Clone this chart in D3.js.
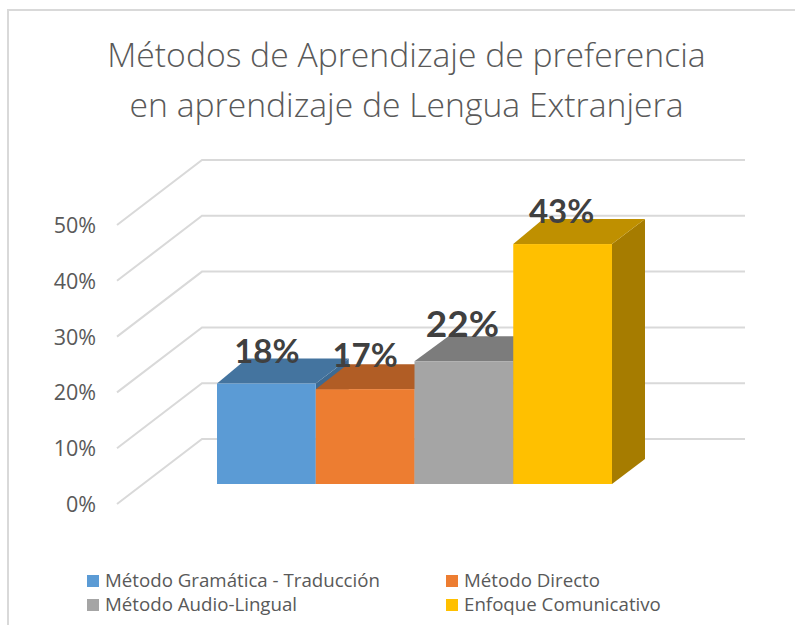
<!DOCTYPE html>
<html><head><meta charset="utf-8">
<script src="https://cdn.jsdelivr.net/npm/d3@7/dist/d3.min.js"></script>
<style>html,body{margin:0;padding:0;background:#fff}svg{display:block}</style>
</head><body>
<svg id="c" width="795" height="625"></svg>
<script>
const categories = ["Método Gramática - Traducción","Método Directo","Método Audio-Lingual","Enfoque Comunicativo"];
const values = [18,17,22,43];
const labels = ["18%","17%","22%","43%"];
const ticks = [0,10,20,30,40,50];
const frontColors = ["#5B9BD5","#ED7D31","#A5A5A5","#FFC000"];
const topColors = ["#44749F","#B15D25","#7C7C7C","#BF9000"];
const sideColors = ["#3D6A92","#A05422","#707070","#A67C00"];
const titleLines = ["Métodos de Aprendizaje de preferencia","en aprendizaje de Lengua Extranjera"];
// drawing styles, separate from the data
const labelSizes = [33,33,37,33];
const labelGaps = [21,22,24.5,21];
const labelShift = [0.5,0,-1.5,-1];
const depthLeft = [30,32,34,30];

const svg = d3.select("#c");
const font = "'Open Sans', sans-serif";
const line = d3.line();

svg.append("path").attr("fill","none").attr("stroke","#d9d9d9").attr("stroke-width",2)
  .attr("d",line([[8,625],[8,10],[795,10]]));

const yFront = d3.scaleLinear().domain([0,50]).range([504,225]);
const yBack = d3.scaleLinear().domain([0,50]).range([439,160]);
const yBar = d3.scaleLinear().domain([0,50]).range([484,205]);
const xBand = d3.scaleBand().domain(categories).range([217,612]);

svg.append("g").selectAll("text").data(titleLines).join("text")
  .attr("x",406.5).attr("y",(d,i)=>[67,117][i]).attr("text-anchor","middle")
  .attr("font-family",font).attr("font-weight",300).attr("font-size",33.7).attr("fill","#595959").text(d=>d);

const grid = svg.append("g").attr("fill","none").attr("stroke","#d9d9d9").attr("stroke-width",2);
grid.selectAll("path").data(ticks).join("path")
  .attr("d",t=>line([[117,yFront(t)],[202,yBack(t)],[745,yBack(t)]]));

svg.append("g").selectAll("text").data(ticks).join("text")
  .attr("x",96).attr("y",t=>yFront(t)+8).attr("text-anchor","end")
  .attr("font-family",font).attr("font-size",21.5).attr("fill","#595959").text(t=>t+"%");

const dxR = 33, dy = 25;
const bars = svg.append("g").selectAll("g").data(categories).join("g");
bars.append("path").attr("fill",(d,i)=>sideColors[i]).attr("d",(d,i)=>{
  const r = xBand(d)+xBand.bandwidth(), t = yBar(values[i]), b = yBar(0);
  return line([[r,t],[r+dxR,t-dy],[r+dxR,b-dy],[r,b]])+"Z";
});
bars.append("path").attr("fill",(d,i)=>topColors[i]).attr("d",(d,i)=>{
  const l = xBand(d), r = l+xBand.bandwidth(), t = yBar(values[i]);
  return line([[l,t],[l+depthLeft[i],t-dy],[r+dxR,t-dy],[r,t]])+"Z";
});
bars.append("rect").attr("fill",(d,i)=>frontColors[i])
  .attr("x",d=>xBand(d)).attr("width",xBand.bandwidth())
  .attr("y",(d,i)=>yBar(values[i])).attr("height",(d,i)=>yBar(0)-yBar(values[i]));

svg.append("g").selectAll("text").data(categories).join("text")
  .attr("x",(d,i)=>xBand(d)+xBand.bandwidth()/2+labelShift[i]).attr("y",(d,i)=>yBar(values[i])-labelGaps[i])
  .attr("text-anchor","middle").attr("font-family","Lato, sans-serif").attr("font-weight",700)
  .attr("font-size",(d,i)=>labelSizes[i]).attr("fill","#404040").text((d,i)=>labels[i]);

const legX = [87,446], legY = [581,605];
const leg = svg.append("g").selectAll("g").data(categories).join("g");
leg.append("rect").attr("x",(d,i)=>legX[i%2]).attr("y",(d,i)=>legY[i>>1]-6).attr("width",12).attr("height",12)
  .attr("fill",(d,i)=>frontColors[i]);
leg.append("text").attr("x",(d,i)=>legX[i%2]+18).attr("y",(d,i)=>legY[i>>1]+6)
  .attr("font-family",font).attr("font-size",18.7).attr("fill","#595959").text(d=>d);
</script>
</body></html>
